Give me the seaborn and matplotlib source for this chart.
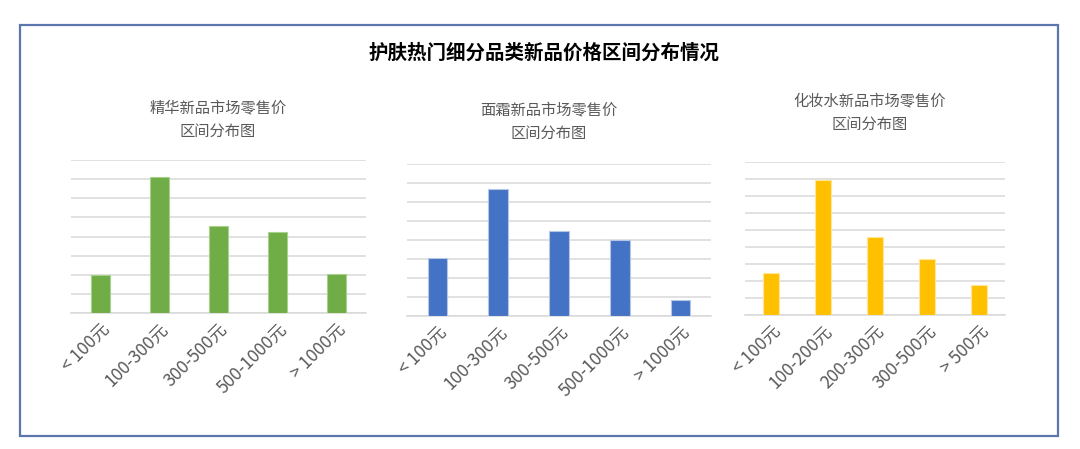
import seaborn as sns
import matplotlib.pyplot as plt
from matplotlib.patches import Rectangle
import pandas as pd

sns.set_style("white")
plt.rcParams['font.family'] = ['Noto Sans CJK SC', 'DejaVu Sans']

main_title = "护肤热门细分品类新品价格区间分布情况"

# 精华
essence_cats = ["< 100元", "100-300元", "300-500元", "500-1000元", "> 1000元"]
essence_vals = [10.0, 35.5, 22.8, 21.2, 10.2]
# 面霜
cream_cats = ["< 100元", "100-300元", "300-500元", "500-1000元", "> 1000元"]
cream_vals = [15.2, 33.5, 22.5, 19.9, 4.1]
# 化妆水
toner_cats = ["< 100元", "100-200元", "200-300元", "300-500元", "> 500元"]
toner_vals = [12.3, 39.7, 22.8, 16.6, 8.8]

titles = ["精华新品市场零售价\n区间分布图", "面霜新品市场零售价\n区间分布图", "化妆水新品市场零售价\n区间分布图"]
colors = ["#70AD47", "#4472C4", "#FFC000"]
edges = ["#A9D18E", "#B4C7E7", "#FFE699"]
ymax = [40, 40, 45]

fig = plt.figure(figsize=(10.8, 4.49), dpi=100)
fig.patches.append(Rectangle((20/1080, 1 - 436/449), 1038/1080, 411/449,
                             transform=fig.transFigure, fill=False,
                             edgecolor="#5B76AD", linewidth=1.6))
fig.text(544/1080, 1 - 53/449, main_title, ha="center", va="center",
         fontsize=14, fontweight="bold", color="black")

# axes boxes in pixels: left, top, right, bottom
boxes = [(71, 160, 366, 313), (407, 164, 711, 316), (745, 162, 1005, 315)]
title_pos = [(218, 120), (549, 122), (870, 113)]
data = [(essence_cats, essence_vals), (cream_cats, cream_vals), (toner_cats, toner_vals)]

for i, (cats, vals) in enumerate(data):
    l, t, r, b = boxes[i]
    ax = fig.add_axes([l/1080, 1 - b/449, (r - l)/1080, (b - t)/449])
    df = pd.DataFrame({"cat": cats, "val": vals})
    sns.barplot(data=df, x="cat", y="val", ax=ax, color=colors[i], saturation=1,
                width=0.32, edgecolor=edges[i], linewidth=0.8, zorder=3)
    ax.set_ylim(0, ymax[i])
    ax.set_yticks(range(0, ymax[i] + 1, 5))
    ax.set_yticklabels([])
    ax.tick_params(axis="y", length=0)
    ax.tick_params(axis="x", length=0, pad=5, colors="#595959")
    ax.grid(axis="y", color="#D9D9D9", linewidth=1.1, zorder=0)
    ax.set_axisbelow(True)
    for s in ["top", "right", "left"]:
        ax.spines[s].set_visible(False)
    ax.spines["bottom"].set_color("#D9D9D9")
    ax.spines["bottom"].set_linewidth(1.1)
    ax.set_xlabel("")
    ax.set_ylabel("")
    for lab in ax.get_xticklabels():
        lab.set_rotation(45)
        lab.set_ha("right")
        lab.set_rotation_mode("anchor")
        lab.set_fontsize(12.5)
        lab.set_color("#595959")
    ax.set_xlim(-0.5, len(cats) - 0.5)
    fig.text(title_pos[i][0]/1080, 1 - title_pos[i][1]/449, titles[i],
             ha="center", va="center", fontsize=11, color="#595959", linespacing=1.45)

fig.savefig("out.png", dpi=100)
